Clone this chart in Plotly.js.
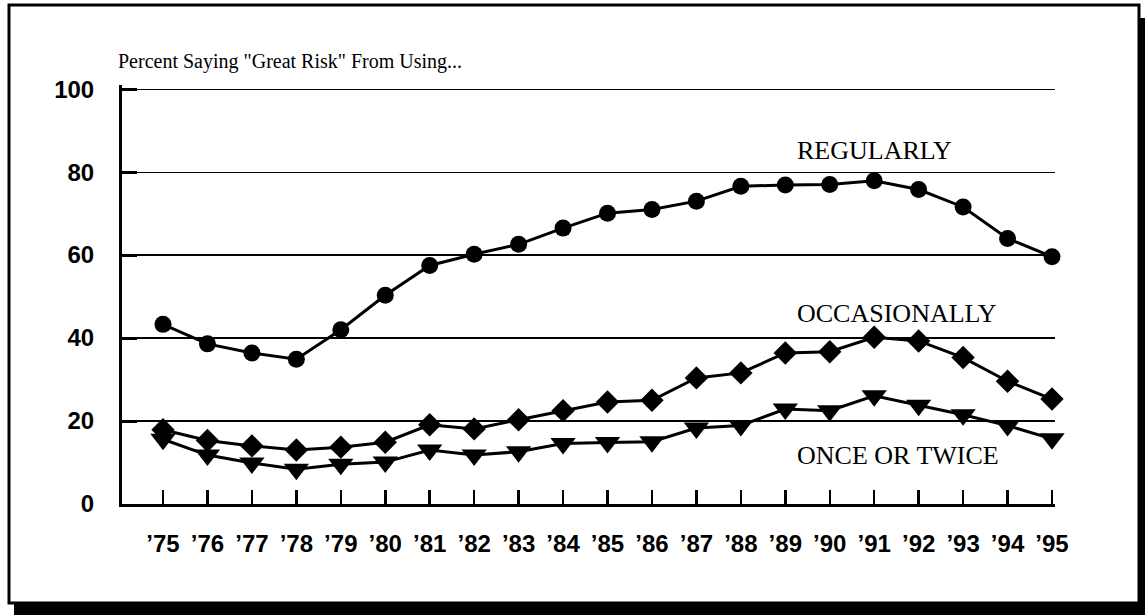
<!DOCTYPE html>
<html>
<head>
<meta charset="utf-8">
<script src="https://cdn.plot.ly/plotly-3.0.1.min.js"></script>
<style>
html,body{margin:0;padding:0;background:#fff;}
#chart{width:1145px;height:615px;}
</style>
</head>
<body>
<div id="chart"></div>
<script>
// ---- data ----
const years = [1975,1976,1977,1978,1979,1980,1981,1982,1983,1984,1985,1986,1987,1988,1989,1990,1991,1992,1993,1994,1995];
const yearLabels = ["’75","’76","’77","’78","’79","’80","’81","’82","’83","’84","’85","’86","’87","’88","’89","’90","’91","’92","’93","’94","’95"];
const regularly = [43.3,38.6,36.4,34.9,42.0,50.3,57.5,60.2,62.6,66.5,70.1,71.0,73.0,76.6,76.9,77.0,77.9,75.8,71.6,64.0,59.6];
const occasionally = [17.9,15.3,14.0,13.0,13.7,14.9,19.1,18.1,20.3,22.5,24.6,25.0,30.4,31.6,36.4,36.7,40.2,39.3,35.3,29.6,25.3];
const onceOrTwice = [15.6,11.8,9.9,8.4,9.6,10.1,13.0,11.8,12.6,14.6,14.8,15.0,18.3,18.9,22.9,22.5,26.1,23.8,21.5,18.9,15.7];
const yTicks = [0,20,40,60,80,100];
const seriesLabels = ["REGULARLY","OCCASIONALLY","ONCE OR TWICE"];
const titleText = 'Percent Saying "Great Risk" From Using...';

// ---- layout geometry (pixels) ----
const W = 1145, H = 615;
const L = 122, R = 1055, T = 85, B = 504;
const pw = R - L, ph = B - T;
const px = x => (x - L) / pw;      // pixel -> paper x
const py = y => (B - y) / ph;      // pixel -> paper y

const serif = 'Liberation Serif, Times New Roman, serif';
const sans = 'Liberation Sans, Arial, Helvetica, sans-serif';

function trace(y, symbol, size) {
  return {
    x: years, y: y, type: 'scatter', mode: 'lines+markers',
    line: {color: '#000', width: 3},
    marker: {symbol: symbol, size: size, color: '#000', line: {width: 0}},
    hoverinfo: 'skip', showlegend: false, cliponaxis: false
  };
}

const data = [
  trace(regularly, 'circle', 17),
  trace(occasionally, 'diamond', 18),
  trace(onceOrTwice, 'triangle-down', 22)
];

const layout = {
  width: W, height: H,
  margin: {l: L, r: W - R, t: T, b: H - B, pad: 0},
  paper_bgcolor: '#fff', plot_bgcolor: '#fff',
  showlegend: false,
  title: {
    text: titleText, xref: 'container', yref: 'container',
    x: 118 / W, xanchor: 'left', y: 1 - 61 / H, yanchor: 'middle',
    font: {family: serif, size: 20, color: '#000'}
  },
  xaxis: {
    range: [1975 - (163 - L) / 44.45, 1995 + (R - 1052) / 44.45],
    tickvals: years, ticktext: yearLabels,
    ticks: 'inside', ticklen: 14, tickwidth: 2.5, tickcolor: '#000',
    showline: true, linecolor: '#000', linewidth: 3,
    showgrid: false, zeroline: false,
    ticklabelstandoff: 16,
    tickfont: {family: sans, size: 24, color: '#000', weight: 'bold'},
    fixedrange: true
  },
  yaxis: {
    range: [0, 101],
    tickvals: yTicks,
    ticks: 'inside', ticklen: 15, tickwidth: 3, tickcolor: '#000',
    showline: true, linecolor: '#000', linewidth: 3,
    showgrid: true, gridcolor: '#000', gridwidth: 1.2,
    zeroline: false,
    ticklabelstandoff: 20,
    tickfont: {family: sans, size: 24, color: '#000', weight: 'bold'},
    fixedrange: true
  },
  annotations: [
    {text: seriesLabels[0], xref: 'paper', yref: 'y', x: px(795), y: 85.3, xanchor: 'left', yanchor: 'middle', showarrow: false, font: {family: serif, size: 26, color: '#000'}},
    {text: seriesLabels[1], xref: 'paper', yref: 'y', x: px(795), y: 46.0, xanchor: 'left', yanchor: 'middle', showarrow: false, font: {family: serif, size: 26, color: '#000'}},
    {text: seriesLabels[2], xref: 'paper', yref: 'y', x: px(795), y: 11.6, xanchor: 'left', yanchor: 'middle', showarrow: false, font: {family: serif, size: 26, color: '#000'}}
  ],
  shapes: [
    // outer frame
    {type: 'rect', xref: 'paper', yref: 'paper', x0: px(9), x1: px(1139), y0: py(5), y1: py(603), line: {color: '#000', width: 3}, fillcolor: 'rgba(0,0,0,0)', layer: 'below'},
    // drop shadow right
    {type: 'rect', xref: 'paper', yref: 'paper', x0: px(1139), x1: px(1146), y0: py(18), y1: py(616), line: {width: 0}, fillcolor: '#000'},
    // drop shadow bottom
    {type: 'rect', xref: 'paper', yref: 'paper', x0: px(14), x1: px(1146), y0: py(603), y1: py(616), line: {width: 0}, fillcolor: '#000'}
  ]
};

Plotly.newPlot('chart', data, layout, {displayModeBar: false, staticPlot: true});
</script>
</body>
</html>
